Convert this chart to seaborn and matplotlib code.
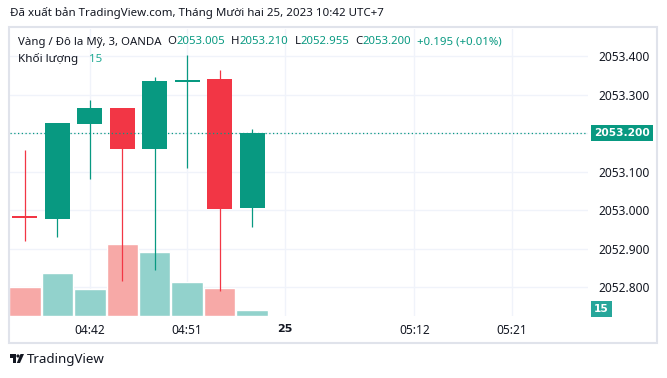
import numpy as np
import pandas as pd
import seaborn as sns
import matplotlib.pyplot as plt
from matplotlib.patches import Rectangle, Polygon, Circle
from matplotlib.transforms import blended_transform_factory

# 3 phut / nen, OANDA XAUUSD
bar_idx = [0, 1, 2, 3, 4, 5, 6, 7]
opens = [2052.985, 2052.977, 2053.224, 2053.265, 2053.159, 2053.334, 2053.340, 2053.005]
highs = [2053.156, 2053.226, 2053.286, 2053.265, 2053.345, 2053.403, 2053.365, 2053.210]
lows = [2052.920, 2052.931, 2053.082, 2052.816, 2052.845, 2053.110, 2052.790, 2052.955]
closes = [2052.980, 2053.226, 2053.265, 2053.159, 2053.335, 2053.339, 2053.003, 2053.200]
volumes = [72, 108, 68, 180, 160, 85, 70, 15]

price_ticks = [2052.8, 2052.9, 2053.0, 2053.1, 2053.2, 2053.3, 2053.4]
time_tick_idx = [2, 5, 8, 12, 15]
time_tick_labels = ["04:42", "04:51", "25", "05:12", "05:21"]
last_close = 2053.200
last_volume = 15

header = "Đã xuất bản TradingView.com, Tháng Mười hai 25, 2023 10:42 UTC+7"
symbol = "Vàng / Đô la Mỹ, 3, OANDA"

UP, DOWN = "#089981", "#f23645"
VOL_UP, VOL_DOWN = "#92d2cc", "#f7a9a7"
TXT = "#131722"
GRID = "#f0f3fa"

sns.set_theme(style="white")
plt.rcParams['font.family'] = ['Noto Sans', 'DejaVu Sans']

df = pd.DataFrame({"idx": bar_idx, "open": opens, "high": highs, "low": lows,
                   "close": closes, "volume": volumes})
df["dir"] = np.where(df["close"] >= df["open"], "up", "down")

W, H = 667, 378
fig = plt.figure(figsize=(W / 100, H / 100), dpi=100)
fig.patch.set_facecolor("white")
rect = [10 / W, (H - 316) / H, (588 - 10) / W, (316 - 29) / H]

# nen: luoi + truc
ax = fig.add_axes(rect)
axv = fig.add_axes(rect, sharex=ax)
axc = fig.add_axes(rect, sharex=ax, sharey=ax)
for a in (axv, axc):
    a.patch.set_visible(False)
    a.axis("off")

xlim = (-0.46, 17.35)
ylim = (2052.7247, 2053.4705)

ax.set_yticks(price_ticks)
ax.set_yticklabels(["" if abs(p - last_close) < 1e-6 else f"{p:.3f}" for p in price_ticks])
ax.yaxis.tick_right()
ax.set_xticks(time_tick_idx)
ax.set_xticklabels(time_tick_labels)
ax.tick_params(axis="y", length=0, pad=7.2, labelsize=8.6, labelcolor=TXT)
ax.tick_params(axis="x", length=0, pad=5.5, labelsize=8.6, labelcolor=TXT)
for lbl in ax.get_xticklabels():
    if lbl.get_text() == "25":
        lbl.set_fontfamily(["DejaVu Sans"])
        lbl.set_fontweight("bold")
        lbl.set_fontsize(8)
ax.grid(True, color=GRID, linewidth=1)
for s in ax.spines.values():
    s.set_visible(False)
ax.set_xlabel("")
ax.set_ylabel("")

# khoi luong
sns.barplot(data=df, x="idx", y="volume", hue="dir", palette={"up": VOL_UP, "down": VOL_DOWN},
            native_scale=True, dodge=False, width=0.97, saturation=1, errorbar=None,
            legend=False, ax=axv)
axv.set_ylim(0, 15 * 287 / 6)
axv.axis("off")

# nen
colors = [UP if d == "up" else DOWN for d in df["dir"]]
axc.vlines(df["idx"], df["low"], df["high"], colors=colors, linewidth=0.9)
body = (df["close"] - df["open"]).abs()
axc.bar(df["idx"], body, bottom=df[["open", "close"]].min(axis=1), width=0.77,
        color=colors, linewidth=0)
axc.axhline(last_close, color=UP, linestyle=(0, (1, 2)), linewidth=0.9)

ax.set_xlim(*xlim)
ax.set_ylim(*ylim)
axc.set_xlim(*xlim)
axc.set_ylim(*ylim)

# nhan gia cuoi, nhan khoi luong
tr = blended_transform_factory(ax.transAxes, ax.transData)
ax.text(1.0 + 6 / 578, last_close, f"{last_close:.3f}", transform=tr, color="white",
        fontsize=7.7, fontweight="bold", family=["DejaVu Sans"], va="center", ha="left",
        bbox=dict(boxstyle="square,pad=0.3", fc=UP, ec="none"))
trv = blended_transform_factory(axv.transAxes, axv.transData)
axv.text(1.0 + 6 / 578, last_volume + 3, f"{last_volume}", transform=trv, color="white",
         fontsize=7.7, fontweight="bold", family=["DejaVu Sans"], va="center", ha="left",
         bbox=dict(boxstyle="square,pad=0.3", fc="#26a69a", ec="none"))

# khung
fig.patches.append(Rectangle((9 / W, (H - 343) / H), 648 / W, 316 / H, transform=fig.transFigure,
                             fill=False, ec="#e0e3eb", lw=1.5))

renderer = fig.canvas.get_renderer()


def write_seq(x, y, parts, size=8.4):
    for s, color, gap in parts:
        t = fig.text(x / W, 1 - y / H, s, color=color, fontsize=size, va="center", ha="left")
        x += t.get_window_extent(renderer).width + gap


fig.text(10 / W, 1 - 13 / H, header, color=TXT, fontsize=8.3, va="center", ha="left")
write_seq(18, 42, [(symbol, TXT, 6), ("O", TXT, 0), (f"{opens[-1]:.3f}", UP, 6),
                   ("H", TXT, 0), (f"{highs[-1]:.3f}", UP, 6),
                   ("L", TXT, 0), (f"{lows[-1]:.3f}", UP, 6),
                   ("C", TXT, 0), (f"{closes[-1]:.3f}", UP, 6),
                   ("+0.195 (+0.01%)", UP, 0)], size=8.2)
write_seq(18, 59, [("Khối lượng", TXT, 11), (f"{last_volume}", "#22ab94", 0)], size=8.4)

# logo
lg = fig.add_axes([10 / W, (H - 364) / H, 14 / W, 10 / H])
lg.set_xlim(0, 14)
lg.set_ylim(0, 10)
lg.axis("off")
lg.add_patch(Polygon([(0, 10), (6, 10), (6, 1), (3, 1), (3, 6), (0, 6)], fc=TXT, ec="none"))
lg.add_patch(Circle((8, 8), 1.6, fc=TXT, ec="none"))
lg.add_patch(Polygon([(10.5, 10), (14, 10), (10, 1), (6.8, 1)], fc=TXT, ec="none"))
fig.text(27 / W, 1 - 359 / H, "TradingView", color=TXT, fontsize=9.6, va="center", ha="left")

fig.savefig("out.png", dpi=100, facecolor="white")
